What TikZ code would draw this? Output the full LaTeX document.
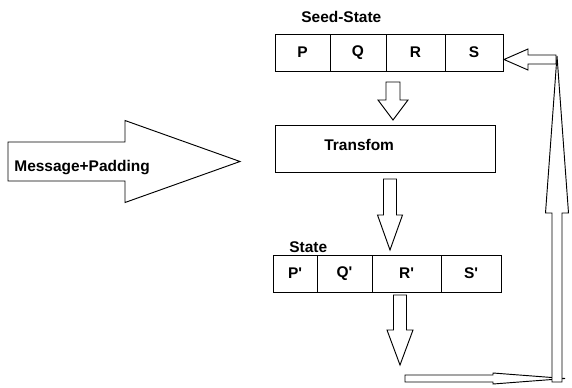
\documentclass[tikz,border=0pt]{standalone}
\usepackage{fontspec}
\setmainfont{Liberation Sans}
\usetikzlibrary{calc,positioning}
\newcommand{\vblock}[5]{\draw[blk] let \p1=(#1),\p2=(#2) in (\x1-#3,\y1) -- (\x1+#3,\y1) -- (\x1+#3,\y2+#5) -- (\x1+#4,\y2+#5) -- (\x1,\y2) -- (\x1-#4,\y2+#5) -- (\x1-#3,\y2+#5) -- cycle;}
\newcommand{\hblock}[5]{\draw[blk] let \p1=(#1),\p2=(#2) in (\x1,\y1-#3) -- (\x1,\y1+#3) -- (\x2+#5,\y1+#3) -- (\x2+#5,\y1+#4) -- (\x2,\y1) -- (\x2+#5,\y1-#4) -- (\x2+#5,\y1-#3) -- cycle;}

\begin{document}
\begin{tikzpicture}[x=0.3mm,y=-0.3mm,line width=0.8pt,font=\fontsize{13.2}{15}\selectfont\bfseries,
    cell/.style={draw,minimum height=11.1mm,inner sep=0pt,outer sep=0pt},
    blk/.style={draw,fill=white,line join=miter}]
    \useasboundingbox (0,0) rectangle (572,387);
    % seed state and state rows
    \node[cell,minimum width=16.5mm] (p) at (302.5,52.5) {P};
    \node[cell,minimum width=16.8mm,right=0pt of p] (q) {Q};
    \node[cell,minimum width=17.7mm,right=0pt of q] (r) {R};
    \node[cell,minimum width=17.4mm,right=0pt of r] (s) {S};
    \node[anchor=base west] (seedlbl) at ($(p.north west)+(22,-12)$) {Seed-State};
    \node[draw,minimum width=66mm,minimum height=14.1mm,outer sep=0pt] (tr) at (385,148.5) {};
    \node[anchor=base west] (trtxt) at ($(tr.west)+(45,1.5)$) {Transfom};
    \node[cell,minimum width=13.2mm] (pp) at (295,273.5) {P\textquotesingle};
    \node[cell,minimum width=16.5mm,right=0pt of pp] (qq) {Q\textquotesingle};
    \node[cell,minimum width=20.7mm,right=0pt of qq] (rr) {R\textquotesingle};
    \node[cell,minimum width=18mm,right=0pt of rr] (ss) {S\textquotesingle};
    \node[anchor=base west] (statelbl) at ($(pp.north west)+(12,-3)$) {State};
    % block arrows
    \coordinate (msg) at (8,161.5);
    \coordinate (msgtip) at ($(tr.west)+(-35,13)$);
    \hblock{msg}{msgtip}{5.85mm}{12.3mm}{-34.5mm}
    \node[anchor=base west] (msgtxt) at (10,171) {Message+Padding};
    \coordinate (a1s) at ($(r.south west)+(7,11)$);
    \coordinate (a1t) at ($(tr.north)+(8,-5)$);
    \vblock{a1s}{a1t}{2.1mm}{4.5mm}{6mm}
    \coordinate (a2s) at ($(tr.south)+(5,7)$);
    \coordinate (a2t) at ($(rr.north west)+(18,-5)$);
    \vblock{a2s}{a2t}{1.95mm}{3.75mm}{10.5mm}
    \coordinate (a3s) at ($(rr.south west)+(28,3)$);
    \coordinate (loopin) at ($(a3s)+(0,70)$);
    \vblock{a3s}{loopin}{1.95mm}{3.9mm}{10.5mm}
    \coordinate (loopst) at ($(loopin)+(5,13.5)$);
    \coordinate (corner) at (557,382);
    \coordinate (loopend) at ($(corner)+(8,-3.5)$);
    \hblock{loopst}{loopend}{1.05mm}{1.65mm}{-21.6mm}
    \coordinate (looptop) at ($(s.east)+(54,3.5)$);
    \vblock{corner}{looptop}{1.5mm}{3.45mm}{-47.1mm}
    \coordinate (backst) at ($(looptop)+(-1,3.5)$);
    \coordinate (backtip) at ($(s.east)+(1,7)$);
    \hblock{backst}{backtip}{1.35mm}{3.15mm}{7.2mm}
\end{tikzpicture}
\end{document}
